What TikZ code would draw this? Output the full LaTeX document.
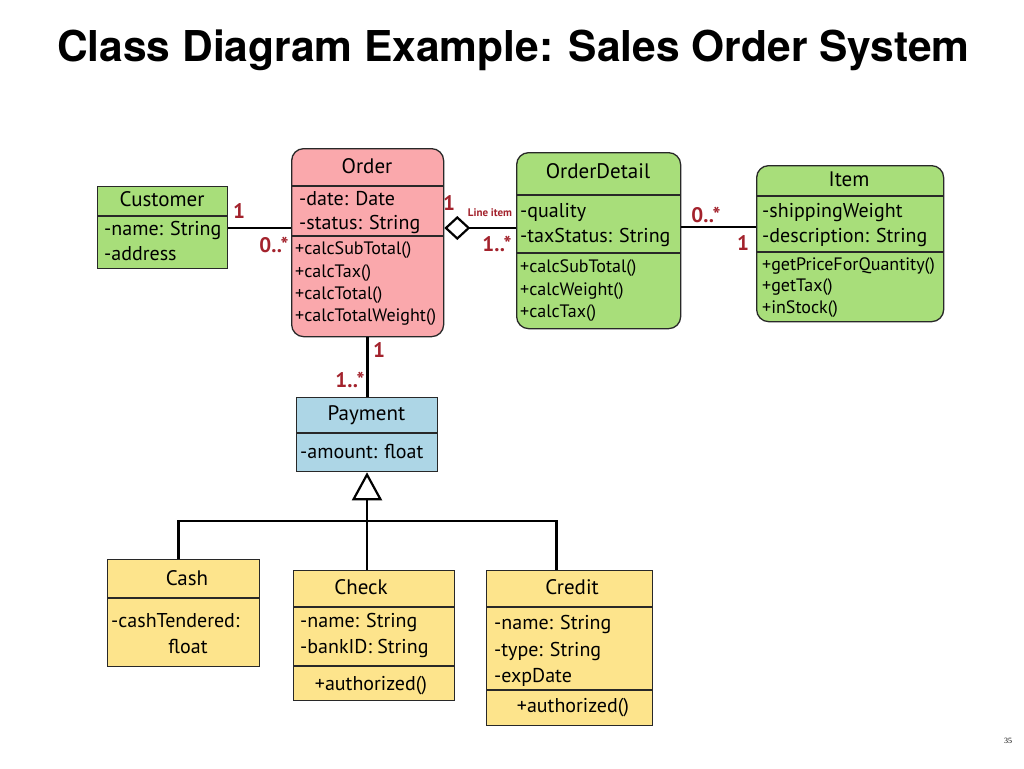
\documentclass[tikz,border=0pt]{standalone}
\usepackage{fontspec}
\setmainfont{PT Sans}
\newfontfamily\titlefont{TeX Gyre Heros}
\newfontfamily\pagefont{Liberation Serif}
\usetikzlibrary{arrows.meta}
\definecolor{cgreen}{RGB}{168,222,122}
\definecolor{cpink}{RGB}{250,168,172}
\definecolor{cblue}{RGB}{173,214,230}
\definecolor{cyellow}{RGB}{253,228,140}
\definecolor{labred}{RGB}{163,34,44}
\definecolor{edge}{RGB}{40,40,40}
\begin{document}
\begin{tikzpicture}[x=1pt,y=-1pt,
  box/.style={draw=edge, line width=1.3pt, inner sep=0pt, anchor=north west},
  rbox/.style={box, rounded corners=12pt},
  div/.style={draw=edge, line width=1.3pt},
  hd/.style={font=\fontsize{21}{21}\selectfont, anchor=base, inner sep=0pt},
  att/.style={font=\fontsize{20}{20}\selectfont, anchor=base west, inner sep=0pt},
  attc/.style={font=\fontsize{20}{20}\selectfont, anchor=base, inner sep=0pt},
  mth/.style={font=\fontsize{18}{18}\selectfont, anchor=base west, inner sep=0pt},
  lab/.style={text=labred, font=\fontsize{21}{21}\selectfont\bfseries, inner sep=0pt},
  conn/.style={draw=black, line width=2.4pt}
]
\useasboundingbox[fill=white] (0,0) rectangle (1024,768);

% title
\node[font=\titlefont\bfseries\fontsize{42.5}{42.5}\selectfont, anchor=base west, inner sep=0pt] (title) at (57,61) {Class Diagram Example: Sales Order System};

% Customer
\node[box, fill=cgreen, minimum width=130pt, minimum height=82pt] (customer) at (97,186) {};
\draw[div] (97,216) -- (227,216);
\node[hd] (customerH) at (162,206.5) {Customer};
\node[att] (customerA1) at (104,235.5) {-name: String};
\node[att] (customerA2) at (104,260.5) {-address};

% Order
\node[rbox, fill=cpink, minimum width=152pt, minimum height=188pt] (order) at (291,148) {};
\draw[div] (291,186) -- (443,186);
\draw[div] (291,236) -- (443,236);
\node[hd] (orderH) at (367,173.5) {Order};
\node[att] (orderA1) at (299,205.5) {-date: Date};
\node[att] (orderA2) at (299,229.5) {-status: String};
\node[mth] (orderM1) at (295,254) {+calcSubTotal()};
\node[mth] (orderM2) at (295,277) {+calcTax()};
\node[mth] (orderM3) at (295,299) {+calcTotal()};
\node[mth] (orderM4) at (295,321) {+calcTotalWeight()};

% OrderDetail
\node[rbox, fill=cgreen, minimum width=164pt, minimum height=176pt] (detail) at (516,152) {};
\draw[div] (516,195) -- (680,195);
\draw[div] (516,253) -- (680,253);
\node[hd] (detailH) at (598,178.5) {OrderDetail};
\node[att] (detailA1) at (520,217.5) {-quality};
\node[att] (detailA2) at (520,242.5) {-taxStatus: String};
\node[mth] (detailM1) at (520,272) {+calcSubTotal()};
\node[mth] (detailM2) at (520,295) {+calcWeight()};
\node[mth] (detailM3) at (520,317) {+calcTax()};

% Item
\node[rbox, fill=cgreen, minimum width=187pt, minimum height=156pt] (item) at (756,165) {};
\draw[div] (756,196) -- (943,196);
\draw[div] (756,252) -- (943,252);
\node[hd] (itemH) at (849,186.5) {Item};
\node[att] (itemA1) at (762,217.5) {-shippingWeight};
\node[att] (itemA2) at (762,242.5) {-description: String};
\node[mth] (itemM1) at (762,270) {+getPriceForQuantity()};
\node[mth] (itemM2) at (762,291) {+getTax()};
\node[mth] (itemM3) at (762,313) {+inStock()};

% Payment
\node[box, fill=cblue, minimum width=141pt, minimum height=74pt] (payment) at (296,397) {};
\draw[div] (296,433) -- (437,433);
\node[hd] (paymentH) at (366.5,420.5) {Payment};
\node[att] (paymentA1) at (300,458.5) {-amount: float};

% Cash
\node[box, fill=cyellow, minimum width=152pt, minimum height=107pt] (cash) at (107,559) {};
\draw[div] (107,598) -- (259,598);
\node[hd] (cashH) at (187,585.5) {Cash};
\node[att] (cashA1) at (111,627.5) {-cashTendered:};
\node[attc] (cashA2) at (188,653.5) {float};

% Check
\node[box, fill=cyellow, minimum width=161pt, minimum height=130pt] (check) at (293,570) {};
\draw[div] (293,607) -- (454,607);
\draw[div] (293,666) -- (454,666);
\node[hd] (checkH) at (361,594.5) {Check};
\node[att] (checkA1) at (300,627.5) {-name: String};
\node[att] (checkA2) at (300,653.5) {-bankID: String};
\node[attc] (checkM1) at (371,690.5) {+authorized()};

% Credit
\node[box, fill=cyellow, minimum width=166pt, minimum height=155pt] (credit) at (486,570) {};
\draw[div] (486,607) -- (652,607);
\draw[div] (486,690) -- (652,690);
\node[hd] (creditH) at (572,594.5) {Credit};
\node[att] (creditA1) at (494,629.5) {-name: String};
\node[att] (creditA2) at (494,656.5) {-type: String};
\node[att] (creditA3) at (494,682.5) {-expDate};
\node[attc] (creditM1) at (573,712.5) {+authorized()};

% connectors
\draw[conn] (customer.east |- 0,228) -- (order.west |- 0,228);
\draw[conn, {Diamond[open, length=26pt, width=24pt, line width=2.2pt]}-] (order.east |- 0,228) -- (detail.west |- 0,228);
\draw[conn] (detail.east |- 0,227) -- (item.west |- 0,227);
\draw[conn] (order.south) -- (order.south |- payment.north);

\coordinate (bus) at (367,521);
\draw[conn, -{Triangle[open, length=28pt, width=30pt, line width=2.2pt]}] (bus) -- (bus |- payment.south);
\draw[conn] ([xshift=-5pt]cash.north) |- (bus) -| ([xshift=-13pt]credit.north);
\draw[conn] (bus) -- (bus |- check.north);

% multiplicities
\node[lab] (m1) at (239,211) {1};
\node[lab] (m2) at (274,245) {0..*};
\node[lab] (m3) at (449,203) {1};
\node[text=labred, font=\fontsize{11}{11}\selectfont\bfseries, inner sep=0pt] (li) at (490,213) {Line item};
\node[lab] (m4) at (497,244) {1..*};
\node[lab] (m5) at (706,215) {0..*};
\node[lab] (m6) at (743,243) {1};
\node[lab] (m7) at (379,350) {1};
\node[lab] (m8) at (350,380) {1..*};

\node[font=\pagefont\fontsize{8}{8}\selectfont, inner sep=0pt] (page) at (1008,741) {35};
\end{tikzpicture}
\end{document}
